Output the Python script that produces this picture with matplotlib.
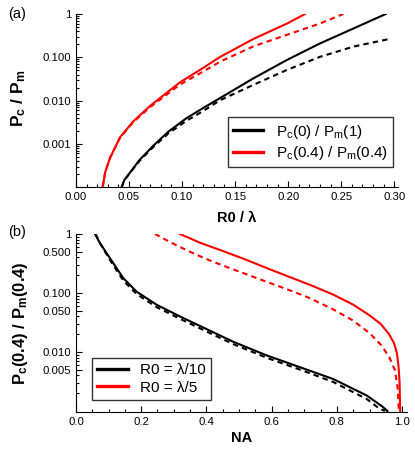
import numpy as np
import matplotlib
matplotlib.use("Agg")
import matplotlib.pyplot as plt
from matplotlib.lines import Line2D
from matplotlib.ticker import FixedLocator, FixedFormatter, MultipleLocator, LogLocator, NullFormatter

plt.rcParams["font.family"] = ["Liberation Sans", "DejaVu Sans"]
plt.rcParams["mathtext.fontset"] = "custom"
plt.rcParams["mathtext.rm"] = "Liberation Sans"
plt.rcParams["mathtext.bf"] = "Liberation Sans:bold"
plt.rcParams["mathtext.it"] = "Liberation Sans:italic"

# ---- panel (a): Pc/Pm versus R0/lambda (log10 of ratio)
a_red_x = [0.0252, 0.0275, 0.032, 0.0415, 0.054, 0.070, 0.084, 0.098, 0.117, 0.136, 0.167, 0.199, 0.216]
a_red_y = [-4.0, -3.66, -3.33, -2.85, -2.48, -2.12, -1.85, -1.58, -1.29, -0.99, -0.58, -0.22, 0.0]
a_red_dash_x = [0.0252, 0.0275, 0.032, 0.0415, 0.054, 0.070, 0.084, 0.098, 0.117, 0.136, 0.167, 0.199, 0.230, 0.252]
a_red_dash_y = [-4.0, -3.66, -3.33, -2.86, -2.50, -2.15, -1.89, -1.63, -1.37, -1.10, -0.75, -0.48, -0.22, 0.0]
a_blk_x = [0.0431, 0.0455, 0.051, 0.060, 0.073, 0.087, 0.104, 0.120, 0.136, 0.167, 0.199, 0.230, 0.262, 0.292]
a_blk_y = [-4.0, -3.84, -3.66, -3.37, -3.04, -2.72, -2.41, -2.17, -1.94, -1.49, -1.06, -0.68, -0.33, 0.0]
a_blk_dash_x = [0.0431, 0.0455, 0.051, 0.060, 0.073, 0.087, 0.104, 0.120, 0.136, 0.167, 0.199, 0.230, 0.262, 0.295]
a_blk_dash_y = [-4.0, -3.84, -3.67, -3.39, -3.07, -2.76, -2.47, -2.24, -1.99, -1.64, -1.29, -0.99, -0.75, -0.58]

# ---- panel (b): Pc(0.4)/Pm(0.4) versus NA
b_blk_x = [0.058, 0.074, 0.104, 0.145, 0.186, 0.247, 0.319, 0.380, 0.483, 0.585, 0.687, 0.789, 0.892, 0.938, 0.955]
b_blk_y = [0.0, -0.16, -0.41, -0.75, -0.98, -1.20, -1.40, -1.56, -1.83, -2.06, -2.26, -2.46, -2.74, -2.92, -3.0]
b_blk_dash_x = [0.060, 0.076, 0.104, 0.145, 0.186, 0.247, 0.319, 0.380, 0.483, 0.585, 0.687, 0.789, 0.892, 0.930, 0.947]
b_blk_dash_y = [0.0, -0.18, -0.44, -0.79, -1.02, -1.24, -1.44, -1.60, -1.87, -2.10, -2.30, -2.51, -2.80, -2.96, -3.0]
b_red_x = [0.318, 0.380, 0.450, 0.513, 0.585, 0.650, 0.720, 0.789, 0.850, 0.900, 0.935, 0.960, 0.975, 0.984, 0.989, 0.992, 0.994]
b_red_y = [0.0, -0.15, -0.29, -0.42, -0.58, -0.72, -0.87, -1.03, -1.20, -1.38, -1.53, -1.70, -1.85, -2.02, -2.25, -2.50, -3.0]
b_red_dash_x = [0.242, 0.268, 0.310, 0.360, 0.410, 0.462, 0.564, 0.667, 0.713, 0.789, 0.850, 0.900, 0.935, 0.960, 0.978, 0.986, 0.990]
b_red_dash_y = [0.0, -0.08, -0.20, -0.33, -0.45, -0.56, -0.77, -0.98, -1.08, -1.28, -1.47, -1.68, -1.88, -2.08, -2.31, -2.60, -3.0]

a_yticks = [1e-4, 1e-3, 1e-2, 1e-1, 1]
a_yticklabels = ["", "0.001", "0.010", "0.100", "1"]
b_yticks = [0.005, 0.01, 0.05, 0.1, 0.5, 1]
b_yticklabels = ["0.005", "0.010", "0.050", "0.100", "0.500", "1"]

RED = "#ff0000"
DASH = (0, (2.6, 2.0))

fig = plt.figure(figsize=(4.15, 4.51), dpi=100)
ax1 = fig.add_axes([0.183, 0.585, 0.776, 0.384])
ax2 = fig.add_axes([0.183, 0.0865, 0.797, 0.395])


def style(ax):
    ax.spines["top"].set_visible(False)
    ax.spines["right"].set_visible(False)
    ax.set_yscale("log")
    ax.tick_params(which="both", direction="in", labelsize=8.2, width=0.8)
    ax.tick_params(which="major", length=4)
    ax.tick_params(which="minor", length=2)
    ax.yaxis.set_minor_locator(LogLocator(base=10, subs=np.arange(2, 10)))
    ax.yaxis.set_minor_formatter(NullFormatter())


# panel (a)
ax1.plot(a_blk_x, 10 ** np.array(a_blk_y), color="black", lw=1.5)
ax1.plot(a_blk_dash_x, 10 ** np.array(a_blk_dash_y), color="black", lw=1.5, ls=DASH)
ax1.plot(a_red_x, 10 ** np.array(a_red_y), color=RED, lw=1.5)
ax1.plot(a_red_dash_x, 10 ** np.array(a_red_dash_y), color=RED, lw=1.5, ls=DASH)
style(ax1)
ax1.set_xlim(0, 0.3035)
ax1.set_ylim(1e-4, 1)
ax1.set_xticks(np.arange(0, 0.31, 0.05))
ax1.set_xticklabels(["0.00", "0.05", "0.10", "0.15", "0.20", "0.25", "0.30"])
ax1.xaxis.set_minor_locator(MultipleLocator(0.01))
ax1.yaxis.set_major_locator(FixedLocator(a_yticks))
ax1.yaxis.set_major_formatter(FixedFormatter(a_yticklabels))
ax1.set_xlabel("R0 / λ", fontsize=10.5, fontweight="bold", va="center")
ax1.xaxis.set_label_coords(0.5, -0.179)
ax1.set_ylabel(r"$\mathbf{P_c\ /\ P_m}$", fontsize=12.5, va="center")
ax1.yaxis.set_label_coords(-0.177, 0.51)
h1 = [Line2D([], [], color="black", lw=2.4), Line2D([], [], color=RED, lw=2.4)]
leg1 = ax1.legend(h1, [r"$\mathrm{P_c(0)\ /\ P_m(1)}$", r"$\mathrm{P_c(0.4)\ /\ P_m(0.4)}$"],
                  loc="lower right", bbox_to_anchor=(0.985, 0.115), fontsize=11, frameon=True,
                  fancybox=False, edgecolor="black", handlelength=2.0, borderpad=0.35,
                  labelspacing=0.2, handletextpad=0.8, borderaxespad=0)
leg1.get_frame().set_linewidth(1.0)
fig.text(0.02, 0.968, "(a)", fontsize=10.5, va="center")

# panel (b)
ax2.plot(b_blk_x, 10 ** np.array(b_blk_y), color="black", lw=1.5)
ax2.plot(b_blk_dash_x, 10 ** np.array(b_blk_dash_y), color="black", lw=1.5, ls=DASH)
ax2.plot(b_red_x, 10 ** np.array(b_red_y), color=RED, lw=1.5)
ax2.plot(b_red_dash_x, 10 ** np.array(b_red_dash_y), color=RED, lw=1.5, ls=DASH)
style(ax2)
ax2.set_xlim(0, 1.014)
ax2.set_ylim(0.00096, 1)
ax2.set_xticks([0.0, 0.2, 0.4, 0.6, 0.8, 1.0])
ax2.set_xticklabels(["0.0", "0.2", "0.4", "0.6", "0.8", "1.0"])
ax2.xaxis.set_minor_locator(MultipleLocator(0.05))
ax2.yaxis.set_major_locator(FixedLocator(b_yticks))
ax2.yaxis.set_major_formatter(FixedFormatter(b_yticklabels))
ax2.set_xlabel("NA", fontsize=10.5, fontweight="bold", va="center")
ax2.xaxis.set_label_coords(0.5, -0.146)
ax2.set_ylabel(r"$\mathbf{P_c(0.4)\ /\ P_m(0.4)}$", fontsize=12, va="center")
ax2.yaxis.set_label_coords(-0.169, 0.5)
h2 = [Line2D([], [], color="black", lw=2.4), Line2D([], [], color=RED, lw=2.4)]
leg2 = ax2.legend(h2, ["R0 = λ/10", "R0 = λ/5"], loc="lower left",
                  bbox_to_anchor=(0.048, 0.068), fontsize=11, frameon=True, fancybox=False,
                  edgecolor="black", handlelength=2.0, borderpad=0.35, labelspacing=0.2,
                  handletextpad=0.8, borderaxespad=0)
leg2.get_frame().set_linewidth(1.0)
fig.text(0.02, 0.485, "(b)", fontsize=10.5, va="center")

fig.savefig("out.png", dpi=100)
